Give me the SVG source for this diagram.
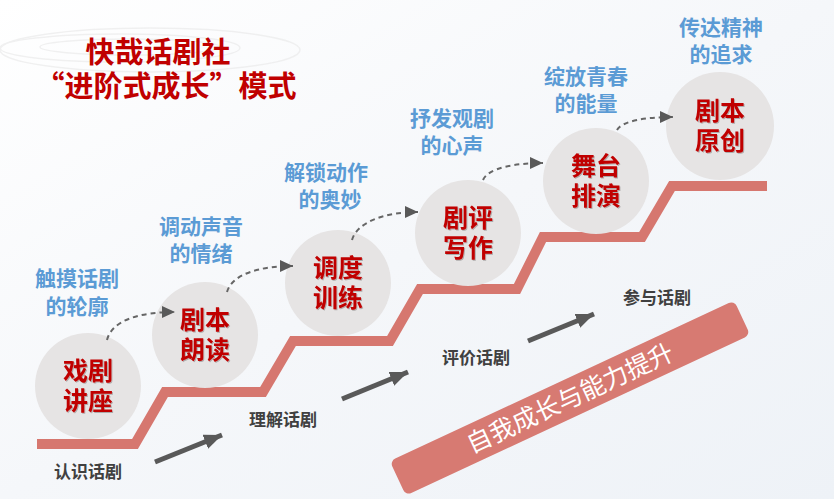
<svg xmlns="http://www.w3.org/2000/svg" width="834" height="499" viewBox="0 0 834 499">
<defs>
<linearGradient id="bg" x1="0" y1="0" x2="1" y2="1">
<stop offset="0" stop-color="#ffffff"/>
<stop offset="0.5" stop-color="#f5f7fa"/>
<stop offset="1" stop-color="#eef2f7"/>
</linearGradient>
<marker id="dashHead" markerUnits="userSpaceOnUse" markerWidth="13" markerHeight="12" viewBox="0 0 13 12" refX="13" refY="6" orient="auto">
<path d="M0,0 L13,6 L0,12 z" fill="#595959"/>
</marker>
<marker id="solidHead" markerUnits="userSpaceOnUse" markerWidth="18" markerHeight="15" viewBox="0 0 18 15" refX="18" refY="7.5" orient="auto">
<path d="M0,0 L18,7.5 L0,15 z" fill="#595959"/>
</marker>
<filter id="sh" x="-10%" y="-10%" width="120%" height="130%">
<feDropShadow dx="1" dy="1" stdDeviation="0.6" flood-color="#000" flood-opacity="0.25"/>
</filter>
</defs>
<style>
.circ{fill:#e6e4e4;}
.red{font-family:"Noto Sans CJK SC","Noto Sans CJK TC",sans-serif;font-weight:700;font-size:25px;fill:#c00000;text-anchor:middle;}
.blue{font-family:"Noto Sans CJK SC",sans-serif;font-weight:700;font-size:21px;fill:#5b9bd5;text-anchor:middle;}
.gray{font-family:"Noto Sans CJK SC",sans-serif;font-weight:700;font-size:17px;fill:#404040;text-anchor:middle;}
.title{font-family:"Noto Sans CJK SC",sans-serif;font-weight:700;font-size:29px;fill:#c00000;text-anchor:middle;}
.dash{fill:none;stroke:#666666;stroke-width:2;stroke-dasharray:5 4;marker-end:url(#dashHead);}
.solid{fill:none;stroke:#595959;stroke-width:5;marker-end:url(#solidHead);}
.stair{fill:none;stroke:#d6776f;stroke-width:10;stroke-linejoin:miter;}
</style>
<rect x="0" y="0" width="834" height="499" fill="url(#bg)"/>
<g fill="none" stroke="#e8e8e8" stroke-width="1.5" opacity="0.6">
<ellipse cx="120" cy="48" rx="120" ry="14"/>
<ellipse cx="150" cy="50" rx="150" ry="22"/>
<ellipse cx="130" cy="47" rx="90" ry="8"/>
</g>

<g id="title">
<text class="title" x="158" y="63">快哉话剧社</text>
<text class="title" x="166" y="97">“进阶式成长”模式</text>
</g>

<g id="stairs">
<path class="stair" d="M37,444 L135,444 L165,392 L263,392 L293,341 L390,341 L420,289 L517,289 L543,237 L642,237 L672,186 L767,186"/>
</g>

<g id="banner">
<g transform="translate(570,398) rotate(-25)">
<rect x="-190" y="-19" width="380" height="38" rx="6" fill="#d77a72"/>
<text x="0" y="9" font-family="Noto Sans CJK SC, sans-serif" font-size="25" fill="#ffffff" text-anchor="middle">自我成长与能力提升</text>
</g>
</g>

<g id="node1">
<circle class="circ" cx="88" cy="386" r="53"/>
<text class="red" x="88" y="380" filter="url(#sh)">戏剧</text>
<text class="red" x="88" y="410" filter="url(#sh)">讲座</text>
</g>
<g id="node2">
<circle class="circ" cx="205" cy="335" r="53"/>
<text class="red" x="205" y="329" filter="url(#sh)">剧本</text>
<text class="red" x="205" y="359" filter="url(#sh)">朗读</text>
</g>
<g id="node3">
<circle class="circ" cx="338" cy="283" r="53"/>
<text class="red" x="338" y="277" filter="url(#sh)">调度</text>
<text class="red" x="338" y="307" filter="url(#sh)">训练</text>
</g>
<g id="node4">
<circle class="circ" cx="468" cy="233" r="53"/>
<text class="red" x="468" y="227" filter="url(#sh)">剧评</text>
<text class="red" x="468" y="257" filter="url(#sh)">写作</text>
</g>
<g id="node5">
<circle class="circ" cx="596" cy="181" r="53"/>
<text class="red" x="596" y="175" filter="url(#sh)">舞台</text>
<text class="red" x="596" y="205" filter="url(#sh)">排演</text>
</g>
<g id="node6">
<circle class="circ" cx="720" cy="126" r="54"/>
<text class="red" x="720" y="120" filter="url(#sh)">剧本</text>
<text class="red" x="720" y="150" filter="url(#sh)">原创</text>
</g>

<g id="labels-blue">
<text class="blue" x="77" y="286">触摸话剧</text>
<text class="blue" x="77" y="314">的轮廓</text>
<text class="blue" x="201" y="234">调动声音</text>
<text class="blue" x="201" y="261">的情绪</text>
<text class="blue" x="326" y="180">解锁动作</text>
<text class="blue" x="330" y="207">的奥妙</text>
<text class="blue" x="452" y="126">抒发观剧</text>
<text class="blue" x="452" y="153">的心声</text>
<text class="blue" x="586" y="84">绽放青春</text>
<text class="blue" x="586" y="111">的能量</text>
<text class="blue" x="721" y="35">传达精神</text>
<text class="blue" x="721" y="62">的追求</text>
</g>

<g id="labels-gray">
<text class="gray" x="88" y="478">认识话剧</text>
<text class="gray" x="283" y="426">理解话剧</text>
<text class="gray" x="476" y="364">评价话剧</text>
<text class="gray" x="657" y="304">参与话剧</text>
</g>

<g id="connectors">
<path class="dash" d="M107,340 C112,320 140,312 175,312"/>
<path class="dash" d="M227,292 C232,274 260,266 293,266"/>
<path class="dash" d="M352,240 C357,222 385,212 418,212"/>
<path class="dash" d="M483,180 C488,168 515,163 543,163"/>
<path class="dash" d="M617,130 C622,121 645,117 673,117"/>
<path class="solid" d="M155,462 L222,435"/>
<path class="solid" d="M342,399 L408,372"/>
<path class="solid" d="M528,341 L594,314"/>
</g>
</svg>
